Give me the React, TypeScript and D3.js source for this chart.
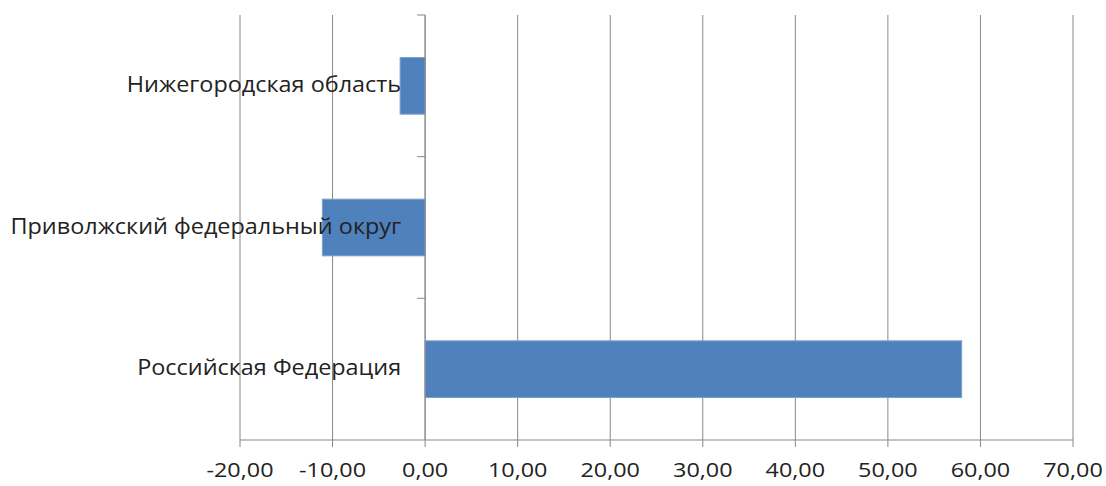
import React from "react";
import * as d3 from "d3";

const categories = ["Нижегородская область", "Приволжский федеральный округ", "Российская Федерация"];
const values = [-2.7, -11.1, 57.97];
const xTicks = [-20, -10, 0, 10, 20, 30, 40, 50, 60, 70];

const W = 1106;
const H = 486;
const M = { left: 240, right: 33, top: 15, bottom: 46 };
const SX = 1.17;
const SXL = 1.115;

export default function App() {
  const x = d3.scaleLinear().domain([-20, 70]).range([M.left, W - M.right]);
  const y = d3
    .scaleBand<string>()
    .domain(categories)
    .range([M.top, H - M.bottom])
    .paddingInner(0.6)
    .paddingOuter(0.3);
  const step = y.step();
  const x0 = x(0);
  const yBottom = H - M.bottom;
  const fmt = (v: number) => v.toFixed(2).replace(".", ",");
  const font = "Open Sans, sans-serif";
  return (
    <svg width={W} height={H} style={{ position: "absolute", left: 0, top: 0, background: "#fff" }}>
      {xTicks.map((t) => (
        <g key={t}>
          <line x1={x(t)} x2={x(t)} y1={M.top} y2={yBottom + 7} stroke="#888" strokeWidth={1} />
          <text
            transform={`translate(${x(t)},${yBottom + 37}) scale(${SX},1)`}
            textAnchor="middle"
            fontFamily={font}
            fontSize={20}
            fill="#222"
          >
            {fmt(t)}
          </text>
        </g>
      ))}
      <line x1={M.left} x2={W - M.right} y1={yBottom} y2={yBottom} stroke="#888" />
      {categories.map((c, i) => (
        <g key={c}>
          <rect
            x={Math.min(x(values[i]), x0)}
            y={y(c)!}
            width={Math.abs(x(values[i]) - x0)}
            height={y.bandwidth()}
            fill="#4f81bd"
            stroke="#7ba0cd"
            strokeWidth={1}
          />
          <text
            transform={`translate(${x0 - 24},${y(c)! + y.bandwidth() / 2 + 6}) scale(${SXL},1)`}
            textAnchor="end"
            fontFamily={font}
            fontSize={21}
            fill="#222"
          >
            {c}
          </text>
        </g>
      ))}
      <line x1={x0} x2={x0} y1={M.top} y2={yBottom} stroke="#888" />
      {[0, 1, 2].map((i) => (
        <line key={i} x1={x0 - 8} x2={x0} y1={M.top + i * step} y2={M.top + i * step} stroke="#888" />
      ))}
    </svg>
  );
}
